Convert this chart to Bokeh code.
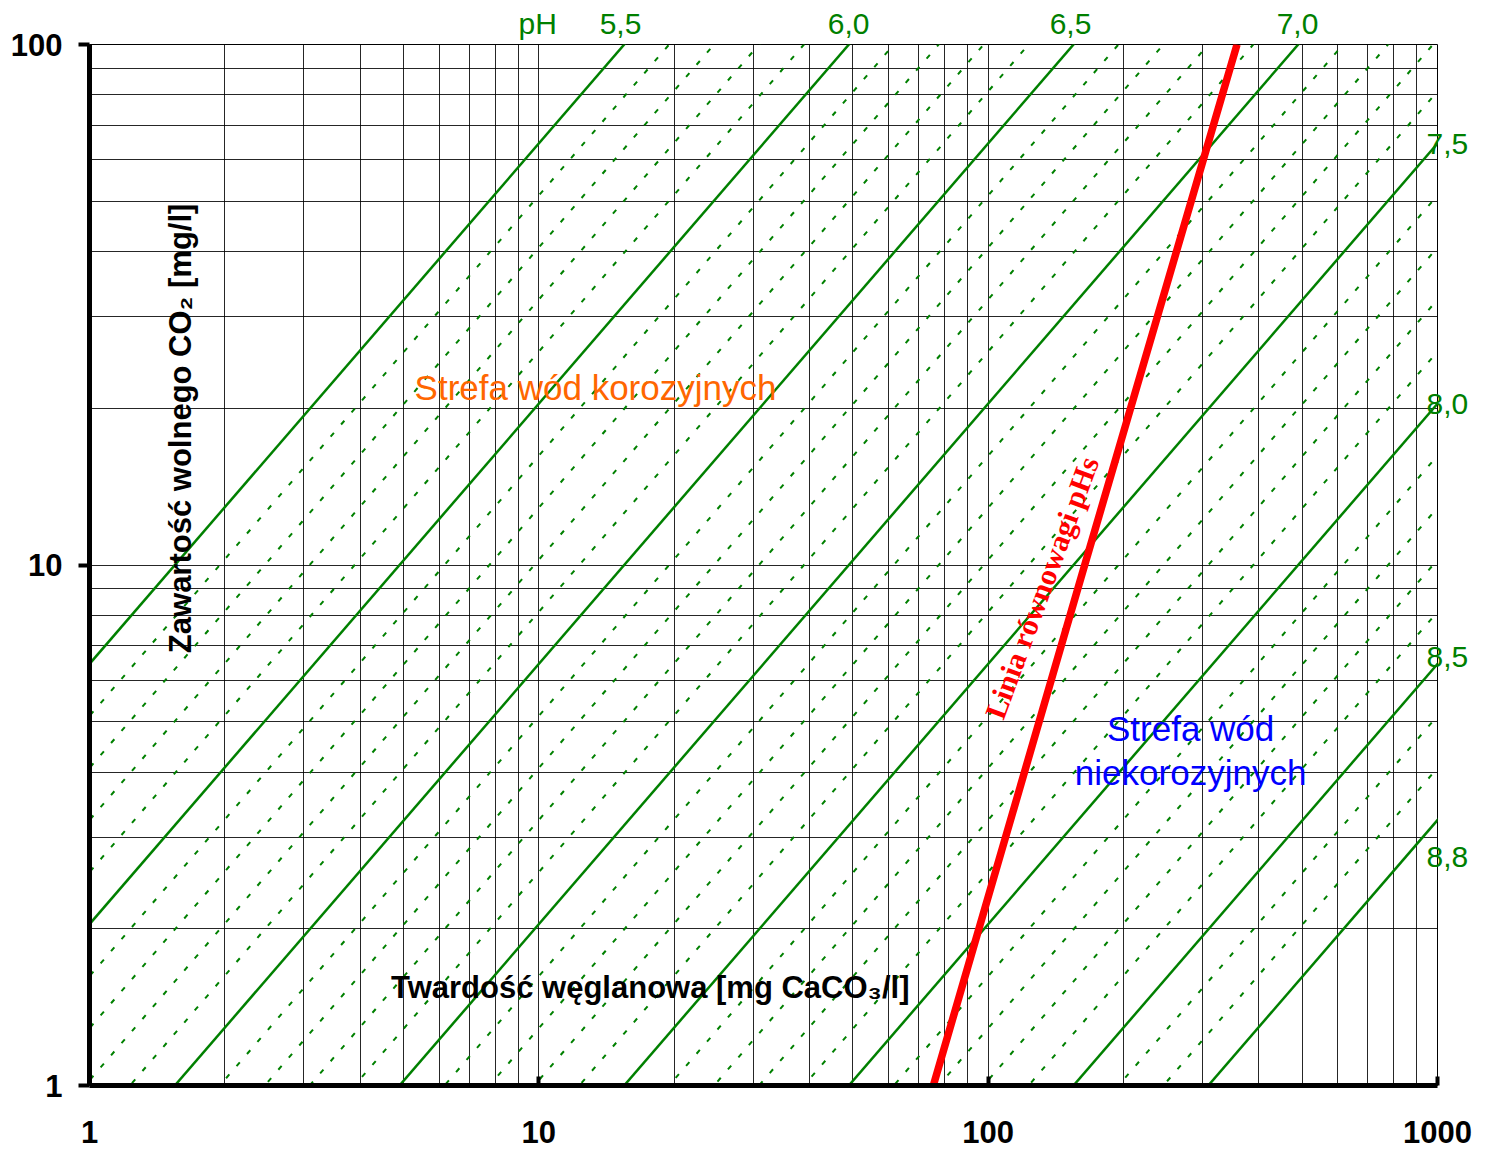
import math
from bokeh.plotting import figure
from bokeh.models import (Label, FixedTicker, PrintfTickFormatter, LogAxis,
                          CustomJSTickFormatter)
from bokeh.embed import file_html
from bokeh.resources import INLINE

# ---- data ----
# solid iso-pH lines and their labels
solid_ph = [5.5, 6.0, 6.5, 7.0, 7.5, 8.0, 8.5, 8.8]
# dotted iso-pH lines (0.1 pH steps)
dashed_ph = [5.6, 5.7, 5.8, 5.9, 6.1, 6.2, 6.3, 6.4, 6.6, 6.7, 6.8, 6.9,
             7.1, 7.2, 7.3, 7.4, 7.6, 7.7, 7.8, 7.9, 8.1, 8.2, 8.3, 8.4,
             8.6, 8.7]
# constant of the nomogram: log CO2 = log hardness + K - pH
K_PH = 6.31
# equilibrium (pHs) line: hardness [mg CaCO3/l] vs free CO2 [mg/l]
eq_hardness = [75.5, 164.0, 358.0]
eq_co2 = [1.0, 10.0, 100.0]

x_ticks = [1, 10, 100, 1000]
y_ticks = [1, 10, 100]
top_labels = ["pH", "5,5", "6,0", "6,5", "7,0"]
right_labels = ["8,8", "8,5", "8,0", "7,5"]

GREEN = "#008000"

p = figure(width=1490, height=1151, x_axis_type="log", y_axis_type="log",
           x_range=(1, 1000), y_range=(1, 100),
           output_backend="svg", toolbar_location=None,
           min_border_left=89, min_border_right=53,
           min_border_top=44, min_border_bottom=66,
           background_fill_color="white", border_fill_color="white")

minor_x = [m * 10 ** e for e in range(3) for m in range(2, 10)]
minor_y = [m * 10 ** e for e in range(2) for m in range(2, 10)]
xt = FixedTicker(ticks=x_ticks, minor_ticks=minor_x)
yt = FixedTicker(ticks=y_ticks, minor_ticks=minor_y)
p.xaxis.ticker = xt
p.yaxis.ticker = yt
p.xgrid.ticker = xt
p.ygrid.ticker = yt
for g in (p.xgrid, p.ygrid):
    g.grid_line_color = "black"
    g.grid_line_width = 1
    g.grid_line_alpha = 0.85
    g.minor_grid_line_color = "black"
    g.minor_grid_line_width = 1
    g.minor_grid_line_alpha = 0.85

p.outline_line_color = "black"
p.outline_line_width = 1

for ax in (p.xaxis, p.yaxis):
    ax.formatter = PrintfTickFormatter(format="%d")
    ax.axis_line_width = 5
    ax.axis_line_color = "black"
    ax.major_tick_line_width = 4
    ax.major_tick_line_color = "black"
    ax.minor_tick_line_color = None
    ax.major_label_text_font = "Liberation Sans"
    ax.major_label_text_font_style = "bold"
    ax.major_label_text_font_size = "31px"
    ax.major_label_text_color = "black"
p.xaxis.major_tick_in = 9
p.xaxis.major_tick_out = 0
p.xaxis.major_label_standoff = 31
p.yaxis.major_tick_in = 0
p.yaxis.major_tick_out = 11
p.yaxis.major_label_standoff = 16

# pH labels as extra (line-less) axes so they can sit outside the frame
top_x = [9.94, 15.2, 48.9, 152.5, 488.0]
right_y = [2.75, 6.67, 20.4, 64.5]
lookup = ("const i = vals.indexOf(tick); return i >= 0 ? labels[i] : '';")
top_axis = LogAxis(ticker=FixedTicker(ticks=top_x, minor_ticks=[]),
                   formatter=CustomJSTickFormatter(
                       args=dict(vals=top_x, labels=top_labels), code=lookup))
right_axis = LogAxis(ticker=FixedTicker(ticks=right_y, minor_ticks=[]),
                     formatter=CustomJSTickFormatter(
                         args=dict(vals=right_y, labels=right_labels),
                         code=lookup))
for ax in (top_axis, right_axis):
    ax.axis_line_color = None
    ax.major_tick_line_color = None
    ax.minor_tick_line_color = None
    ax.major_tick_in = 0
    ax.major_tick_out = 0
    ax.major_label_text_color = GREEN
    ax.major_label_text_font = "Liberation Sans"
    ax.major_label_text_font_size = "30px"
top_axis.major_label_standoff = 5
right_axis.major_label_standoff = -11
p.add_layout(top_axis, "above")
p.add_layout(right_axis, "right")

# iso-pH lines
span = [0.5, 2000.0]
def iso(ph):
    return [x * 10 ** (K_PH - ph) for x in span]

p.multi_line(xs=[span] * len(dashed_ph), ys=[iso(ph) for ph in dashed_ph],
             line_color=GREEN, line_width=2.0, line_dash="5 11")
p.multi_line(xs=[span] * len(solid_ph), ys=[iso(ph) for ph in solid_ph],
             line_color=GREEN, line_width=2.5)

# equilibrium line
p.line(eq_hardness, eq_co2, line_color="red", line_width=7.5)

def lab(x, y, text, **kw):
    opts = dict(text_align="center", text_baseline="middle",
                text_font="Liberation Sans", text_font_size="30px")
    opts.update(kw)
    p.add_layout(Label(x=x, y=y, text=text, **opts))

lab(13.37, 21.9, "Strefa wód korozyjnych", text_color="#FF6600",
    text_font_size="35px")
lab(282.2, 4.85, "Strefa wód", text_color="#0000FF", text_font_size="35px")
lab(282.2, 3.99, "niekorozyjnych", text_color="#0000FF", text_font_size="35px")

lab(131.5, 9.05, "Linia równowagi pHs", text_color="red",
    text_font="Liberation Serif", text_font_style="bold",
    text_font_size="30px", angle=math.radians(69.7))

lab(1.594, 18.3, "Zawartość wolnego CO₂ [mg/l]", text_color="black",
    text_font_style="bold", text_font_size="31px", angle=math.pi / 2)
lab(17.7, 1.543, "Twardość węglanowa [mg CaCO₃/l]", text_color="black",
    text_font_style="bold", text_font_size="31px")

open("out.html", "w").write(file_html(p, INLINE))
